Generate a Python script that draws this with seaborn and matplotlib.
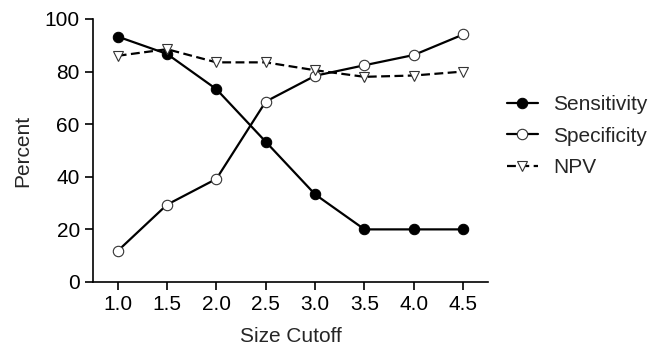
import matplotlib
matplotlib.use("Agg")
import matplotlib.pyplot as plt
import seaborn as sns
import pandas as pd

size_cutoff = [1.0, 1.5, 2.0, 2.5, 3.0, 3.5, 4.0, 4.5]
sensitivity = [93.3, 86.7, 73.3, 53.3, 33.3, 20.0, 20.0, 20.0]
specificity = [11.8, 29.4, 39.2, 68.6, 78.4, 82.4, 86.3, 94.1]
npv = [86.0, 88.5, 83.5, 83.5, 80.5, 78.0, 78.5, 80.0]
x_ticks = [1.0, 1.5, 2.0, 2.5, 3.0, 3.5, 4.0, 4.5]
y_ticks = [0, 20, 40, 60, 80, 100]

sns.set_theme(style="ticks")
plt.rcParams['font.family'] = ['Liberation Sans', 'DejaVu Sans']

FS = 15

fig = plt.figure(figsize=(6.62, 3.51), dpi=100)
ax = fig.add_axes([0.1405, 0.1966, 0.5965, 0.7494])

df_sens = pd.DataFrame({"x": size_cutoff, "y": sensitivity})
df_spec = pd.DataFrame({"x": size_cutoff, "y": specificity})
df_npv = pd.DataFrame({"x": size_cutoff, "y": npv})

sns.lineplot(data=df_sens, x="x", y="y", ax=ax, color="black", lw=1.6,
             marker="o", markersize=7.5, markerfacecolor="black",
             markeredgecolor="black", label="Sensitivity")
sns.lineplot(data=df_spec, x="x", y="y", ax=ax, color="black", lw=1.6,
             marker="o", markersize=7.5, markerfacecolor="white",
             markeredgecolor="#333333", markeredgewidth=0.8, label="Specificity")
sns.lineplot(data=df_npv, x="x", y="y", ax=ax, color="black", lw=1.6,
             linestyle=(0, (4, 2)), marker="v", markersize=7.5,
             markerfacecolor="white", markeredgecolor="#333333",
             markeredgewidth=0.8, label="NPV")

ax.set_xlim(0.75, 4.75)
ax.set_ylim(0, 100)
ax.set_xticks(x_ticks)
ax.set_xticklabels([f"{v:.1f}" for v in x_ticks])
ax.set_yticks(y_ticks)
ax.set_xlabel("Size Cutoff", fontsize=FS, labelpad=9)
ax.set_ylabel("Percent", fontsize=FS, labelpad=9)
ax.tick_params(axis="both", labelsize=FS, length=6, width=1.2,
               direction="out", colors="black")
for side in ["left", "bottom"]:
    ax.spines[side].set_linewidth(1.2)
    ax.spines[side].set_color("black")
sns.despine(ax=ax)

leg = ax.legend(loc="center left", bbox_to_anchor=(0.738, 0.6125),
                bbox_transform=fig.transFigure, frameon=False,
                fontsize=FS, handlelength=1.45, handletextpad=0.75,
                labelspacing=0.6)

fig.savefig("out.png", dpi=100)
